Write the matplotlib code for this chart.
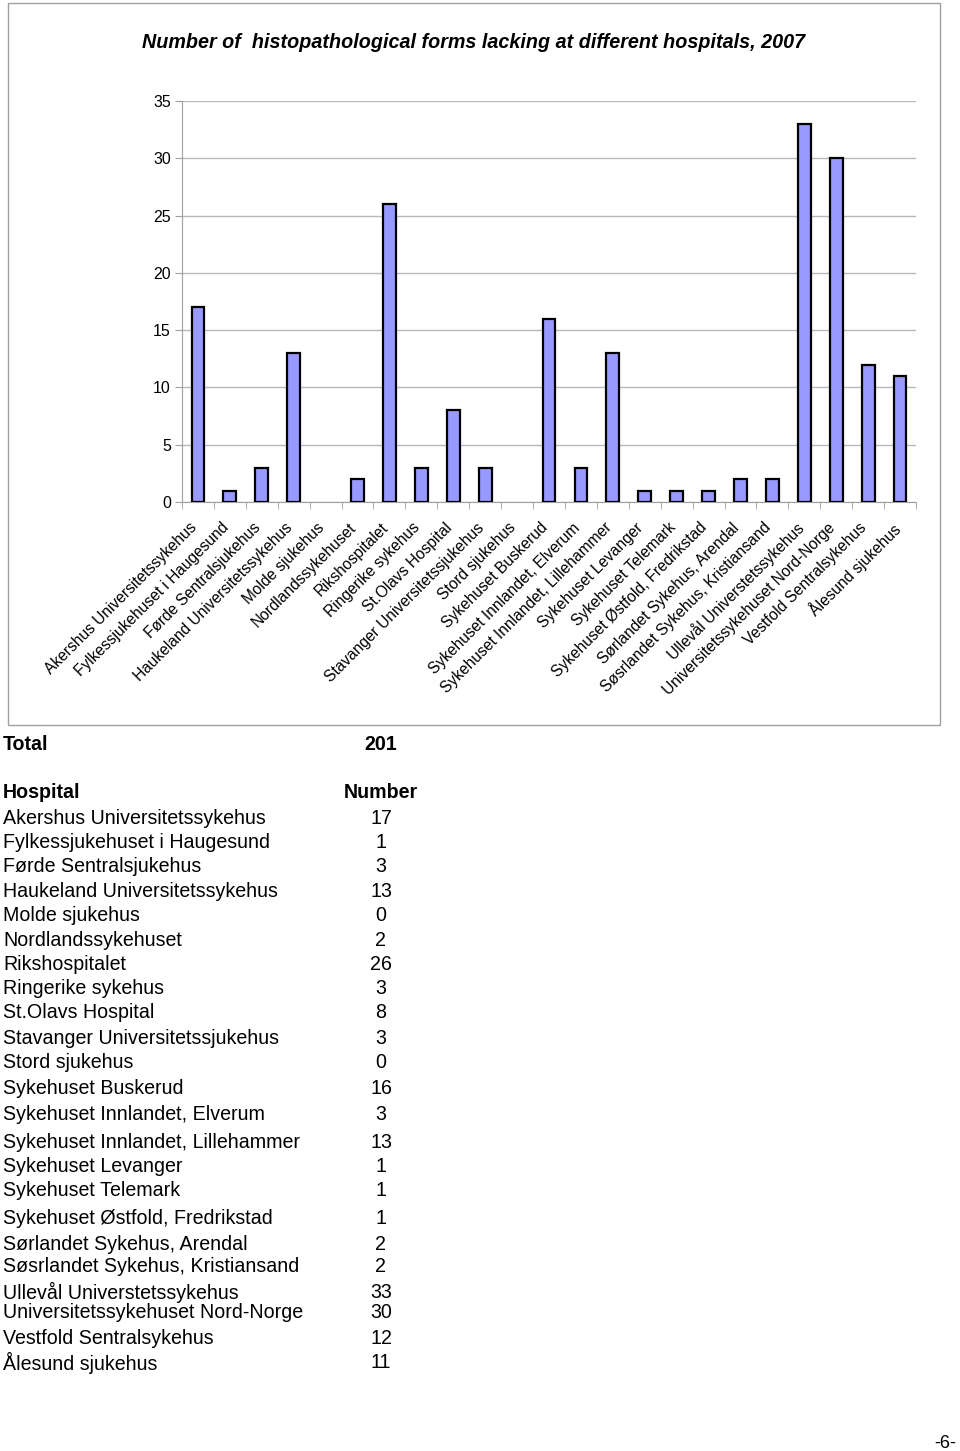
import matplotlib.pyplot as plt
from matplotlib.patches import Rectangle
import matplotlib.transforms as mtransforms
import numpy as np

plt.rcParams['font.family'] = ['Liberation Sans', 'DejaVu Sans']

# Data
hospitals = [
    "Akershus Universitetssykehus",
    "Fylkessjukehuset i Haugesund",
    "Førde Sentralsjukehus",
    "Haukeland Universitetssykehus",
    "Molde sjukehus",
    "Nordlandssykehuset",
    "Rikshospitalet",
    "Ringerike sykehus",
    "St.Olavs Hospital",
    "Stavanger Universitetssjukehus",
    "Stord sjukehus",
    "Sykehuset Buskerud",
    "Sykehuset Innlandet, Elverum",
    "Sykehuset Innlandet, Lillehammer",
    "Sykehuset Levanger",
    "Sykehuset Telemark",
    "Sykehuset Østfold, Fredrikstad",
    "Sørlandet Sykehus, Arendal",
    "Søsrlandet Sykehus, Kristiansand",
    "Ullevål Universtetssykehus",
    "Universitetssykehuset Nord-Norge",
    "Vestfold Sentralsykehus",
    "Ålesund sjukehus",
]
counts = [17, 1, 3, 13, 0, 2, 26, 3, 8, 3, 0, 16, 3, 13, 1, 1, 1, 2, 2, 33, 30, 12, 11]
yticks = [0, 5, 10, 15, 20, 25, 30, 35]

W, H = 960, 1451
fig = plt.figure(figsize=(W / 100, H / 100), dpi=100)

# chart frame
fig.patches.append(Rectangle((8 / W, 1 - 725 / H), 932 / W, 722 / H,
                             transform=fig.transFigure, fill=False,
                             edgecolor="#a0a0a0", linewidth=1))

ax = fig.add_axes([182 / W, 1 - 502 / H, 734 / W, 401 / H])
x = np.arange(len(hospitals))
bars = ax.bar(x, counts, width=0.4, color="#9999ff", edgecolor="black",
              linewidth=1.6, zorder=3)
for b, n in zip(bars, counts):
    if n == 0:
        b.set_visible(False)
ax.set_xlim(-0.5, len(hospitals) - 0.5)
ax.set_ylim(0, 35)
ax.set_yticks(yticks)
ax.set_yticklabels([str(v) for v in yticks], fontsize=11.5)
ax.grid(axis="y", color="#b8b8b8", linewidth=1)
ax.tick_params(axis="y", length=5, color="#a0a0a0", pad=3)
for s in ["top", "right"]:
    ax.spines[s].set_visible(False)
for s in ["left", "bottom"]:
    ax.spines[s].set_color("#a0a0a0")

ax.set_xticks(x)
ax.set_xticklabels(hospitals, rotation=45, ha="right", va="top",
                   rotation_mode="anchor", fontsize=11.2)
ax.tick_params(axis="x", length=0, pad=13)
shift = mtransforms.ScaledTranslation(-9 / 100, 0, fig.dpi_scale_trans)
for lbl in ax.get_xticklabels():
    lbl.set_transform(lbl.get_transform() + shift)
ax.set_xticks(np.arange(len(hospitals) + 1) - 0.5, minor=True)
ax.tick_params(axis="x", which="minor", length=5, color="#a0a0a0")

fig.text(474 / W, 1 - 42 / H,
         "Number of  histopathological forms lacking at different hospitals, 2007",
         ha="center", va="center", fontsize=14.2, fontweight="bold", fontstyle="italic")

# table below chart
fs = 14.1
fig.text(3 / W, 1 - 745 / H, "Total", fontsize=fs, fontweight="bold", va="center")
fig.text(381 / W, 1 - 745 / H, str(sum(counts)), fontsize=fs, fontweight="bold",
         va="center", ha="center")
fig.text(3 / W, 1 - 793 / H, "Hospital", fontsize=fs, fontweight="bold", va="center")
fig.text(381 / W, 1 - 793 / H, "Number", fontsize=fs, fontweight="bold",
         va="center", ha="center")

row_y = [818, 842, 867, 891, 915, 940, 964, 989, 1013, 1038, 1062, 1088,
         1114, 1142, 1166, 1191, 1219, 1244, 1267, 1292, 1313, 1338, 1363]
for name, n, yy in zip(hospitals, counts, row_y):
    fig.text(3 / W, 1 - yy / H, name, fontsize=fs, va="center")
    fig.text(381 / W, 1 - yy / H, str(n), fontsize=fs, va="center", ha="center")

fig.text(945 / W, 1 - 1443 / H, "-6-", fontsize=13, va="center", ha="center")

fig.savefig("out.png", dpi=100)
